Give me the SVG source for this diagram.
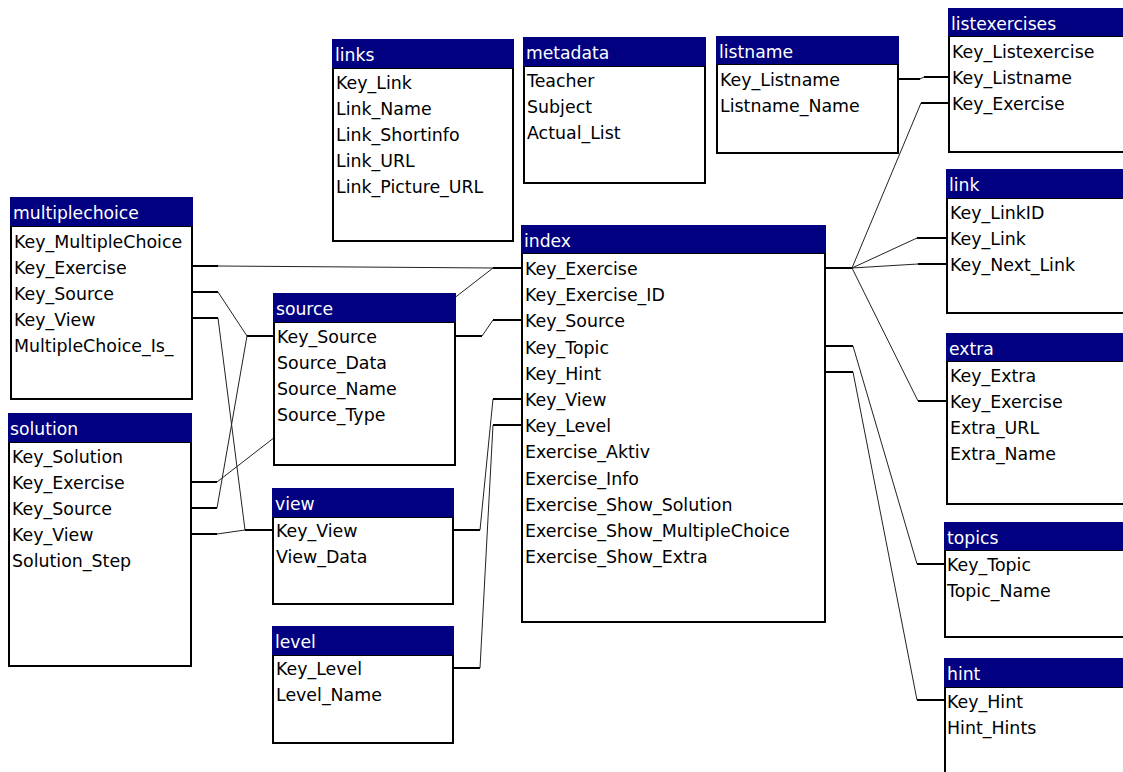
<svg xmlns="http://www.w3.org/2000/svg" width="1123" height="772" viewBox="0 0 1123 772">
  <style>
    .body { fill: #ffffff; stroke: #000000; stroke-width: 2; }
    .hdr { fill: #000080; }
    .ttl { font-family: "DejaVu Sans", Verdana, sans-serif; font-size: 17.2px; fill: #ffffff; }
    .fld { font-family: "DejaVu Sans", Verdana, sans-serif; font-size: 17.4px; fill: #000000; }
    .stub { fill: none; stroke: #000000; stroke-width: 2; }
    .diag { fill: none; stroke: #222222; stroke-width: 1; }
  </style>
  <rect width="1123" height="772" fill="#ffffff"/>

  <!-- relationship lines: thick stubs at the fields, thin joins between them -->
  <g id="connectors">
    <!-- multiplechoice.Key_Exercise -> index.Key_Exercise -->
    <path class="stub" d="M192,266 H218"/>
    <path class="diag" d="M218,266 L493,268"/>
    <path class="stub" d="M493,268 H522"/>
    <!-- multiplechoice.Key_Source -> source.Key_Source -->
    <path class="stub" d="M192,292 H218"/>
    <path class="diag" d="M218,292 L247,336"/>
    <path class="stub" d="M247,336 H274"/>
    <!-- multiplechoice.Key_View -> view.Key_View -->
    <path class="stub" d="M192,318 H218"/>
    <path class="diag" d="M218,318 L245,530"/>
    <path class="stub" d="M245,530 H273"/>
    <!-- solution.Key_Exercise -> index.Key_Exercise -->
    <path class="stub" d="M191,482 H217"/>
    <path class="diag" d="M217,482 L493,268"/>
    <!-- solution.Key_Source -> source.Key_Source -->
    <path class="stub" d="M191,508 H217"/>
    <path class="diag" d="M217,508 L247,336"/>
    <!-- solution.Key_View -> view.Key_View -->
    <path class="stub" d="M191,534 H217"/>
    <path class="diag" d="M217,534 L245,530"/>
    <!-- source.Key_Source -> index.Key_Source -->
    <path class="stub" d="M455,336 H482"/>
    <path class="diag" d="M482,336 L493,320"/>
    <path class="stub" d="M493,320 H522"/>
    <!-- view.Key_View -> index.Key_View -->
    <path class="stub" d="M453,530 H480"/>
    <path class="diag" d="M480,530 L493,399"/>
    <path class="stub" d="M493,399 H522"/>
    <!-- level.Key_Level -> index.Key_Level -->
    <path class="stub" d="M453,668 H480"/>
    <path class="diag" d="M480,668 L493,425"/>
    <path class="stub" d="M493,425 H522"/>
    <!-- index.Key_Exercise fan-out to the right -->
    <path class="stub" d="M825,268 H852"/>
    <path class="diag" d="M852,268 L921,103"/>
    <path class="stub" d="M921,103 H949"/>
    <path class="diag" d="M852,268 L917,238"/>
    <path class="stub" d="M917,238 H947"/>
    <path class="diag" d="M852,268 L918,264"/>
    <path class="stub" d="M918,264 H947"/>
    <path class="diag" d="M852,268 L918,401"/>
    <path class="stub" d="M918,401 H947"/>
    <!-- index.Key_Topic -> topics.Key_Topic -->
    <path class="stub" d="M825,346 H853"/>
    <path class="diag" d="M853,346 L917,564"/>
    <path class="stub" d="M917,564 H945"/>
    <!-- index.Key_Hint -> hint.Key_Hint -->
    <path class="stub" d="M825,372 H853"/>
    <path class="diag" d="M853,372 L917,700"/>
    <path class="stub" d="M917,700 H945"/>
    <!-- listname.Key_Listname -> listexercises.Key_Listname -->
    <path class="stub" d="M898,79 H920"/>
    <path class="diag" d="M920,79 L924,77"/>
    <path class="stub" d="M924,77 H949"/>
  </g>

  <g id="multiplechoice">
    <rect class="body" x="11" y="226" width="181" height="173"/>
    <rect class="hdr" x="10" y="197" width="183" height="29"/>
    <text class="ttl" x="13" y="218.5">multiplechoice</text>
    <text class="fld" x="14" y="248">Key_MultipleChoice</text>
    <text class="fld" x="14" y="274">Key_Exercise</text>
    <text class="fld" x="14" y="300">Key_Source</text>
    <text class="fld" x="14" y="326">Key_View</text>
    <text class="fld" x="14" y="352">MultipleChoice_Is_</text>
  </g>

  <g id="solution">
    <rect class="body" x="9" y="442" width="182" height="224"/>
    <rect class="hdr" x="8" y="413" width="184" height="29"/>
    <text class="ttl" x="10" y="434.5">solution</text>
    <text class="fld" x="12" y="463">Key_Solution</text>
    <text class="fld" x="12" y="489">Key_Exercise</text>
    <text class="fld" x="12" y="515">Key_Source</text>
    <text class="fld" x="12" y="541">Key_View</text>
    <text class="fld" x="12" y="567">Solution_Step</text>
  </g>

  <g id="source">
    <rect class="body" x="274" y="322" width="181" height="143"/>
    <rect class="hdr" x="273" y="293" width="183" height="29"/>
    <text class="ttl" x="276" y="314.5">source</text>
    <text class="fld" x="277" y="343">Key_Source</text>
    <text class="fld" x="277" y="369">Source_Data</text>
    <text class="fld" x="277" y="395">Source_Name</text>
    <text class="fld" x="277" y="421">Source_Type</text>
  </g>

  <g id="view">
    <rect class="body" x="273" y="517" width="180" height="87"/>
    <rect class="hdr" x="272" y="488" width="182" height="29"/>
    <text class="ttl" x="275" y="509.5">view</text>
    <text class="fld" x="276" y="537">Key_View</text>
    <text class="fld" x="276" y="563">View_Data</text>
  </g>

  <g id="level">
    <rect class="body" x="273" y="655" width="180" height="88"/>
    <rect class="hdr" x="272" y="626" width="182" height="29"/>
    <text class="ttl" x="275" y="647.5">level</text>
    <text class="fld" x="276" y="675">Key_Level</text>
    <text class="fld" x="276" y="701">Level_Name</text>
  </g>

  <g id="links">
    <rect class="body" x="333" y="68" width="180" height="173"/>
    <rect class="hdr" x="332" y="39" width="182" height="29"/>
    <text class="ttl" x="335" y="60.5">links</text>
    <text class="fld" x="336" y="89">Key_Link</text>
    <text class="fld" x="336" y="115">Link_Name</text>
    <text class="fld" x="336" y="141">Link_Shortinfo</text>
    <text class="fld" x="336" y="167">Link_URL</text>
    <text class="fld" x="336" y="193">Link_Picture_URL</text>
  </g>

  <g id="metadata">
    <rect class="body" x="524" y="66" width="181" height="117"/>
    <rect class="hdr" x="523" y="37" width="183" height="29"/>
    <text class="ttl" x="526" y="58.5">metadata</text>
    <text class="fld" x="527" y="87">Teacher</text>
    <text class="fld" x="527" y="113">Subject</text>
    <text class="fld" x="527" y="139">Actual_List</text>
  </g>

  <g id="listname">
    <rect class="body" x="717" y="64" width="181" height="89"/>
    <rect class="hdr" x="716" y="36" width="183" height="28"/>
    <text class="ttl" x="719" y="57.5">listname</text>
    <text class="fld" x="720" y="86">Key_Listname</text>
    <text class="fld" x="720" y="112">Listname_Name</text>
  </g>

  <g id="index">
    <rect class="body" x="522" y="253" width="303" height="369"/>
    <rect class="hdr" x="521" y="225" width="305" height="28"/>
    <text class="ttl" x="524" y="246.5">index</text>
    <text class="fld" x="525" y="275">Key_Exercise</text>
    <text class="fld" x="525" y="301.2">Key_Exercise_ID</text>
    <text class="fld" x="525" y="327.4">Key_Source</text>
    <text class="fld" x="525" y="353.6">Key_Topic</text>
    <text class="fld" x="525" y="379.8">Key_Hint</text>
    <text class="fld" x="525" y="406">Key_View</text>
    <text class="fld" x="525" y="432.2">Key_Level</text>
    <text class="fld" x="525" y="458.4">Exercise_Aktiv</text>
    <text class="fld" x="525" y="484.6">Exercise_Info</text>
    <text class="fld" x="525" y="510.8">Exercise_Show_Solution</text>
    <text class="fld" x="525" y="537">Exercise_Show_MultipleChoice</text>
    <text class="fld" x="525" y="563.2">Exercise_Show_Extra</text>
  </g>

  <g id="listexercises">
    <rect class="body" x="949" y="36" width="190" height="116"/>
    <rect class="hdr" x="948" y="8" width="192" height="28"/>
    <text class="ttl" x="951" y="29.5">listexercises</text>
    <text class="fld" x="952" y="58">Key_Listexercise</text>
    <text class="fld" x="952" y="84">Key_Listname</text>
    <text class="fld" x="952" y="110">Key_Exercise</text>
  </g>

  <g id="link">
    <rect class="body" x="947" y="198" width="192" height="115"/>
    <rect class="hdr" x="946" y="169" width="194" height="29"/>
    <text class="ttl" x="949" y="190.5">link</text>
    <text class="fld" x="950" y="219">Key_LinkID</text>
    <text class="fld" x="950" y="245">Key_Link</text>
    <text class="fld" x="950" y="271">Key_Next_Link</text>
  </g>

  <g id="extra">
    <rect class="body" x="947" y="361" width="192" height="143"/>
    <rect class="hdr" x="946" y="333" width="194" height="28"/>
    <text class="ttl" x="949" y="354.5">extra</text>
    <text class="fld" x="950" y="382">Key_Extra</text>
    <text class="fld" x="950" y="408">Key_Exercise</text>
    <text class="fld" x="950" y="434">Extra_URL</text>
    <text class="fld" x="950" y="460">Extra_Name</text>
  </g>

  <g id="topics">
    <rect class="body" x="945" y="550" width="194" height="87"/>
    <rect class="hdr" x="944" y="522" width="196" height="28"/>
    <text class="ttl" x="947" y="543.5">topics</text>
    <text class="fld" x="947" y="571">Key_Topic</text>
    <text class="fld" x="947" y="597">Topic_Name</text>
  </g>

  <g id="hint">
    <rect class="body" x="945" y="687" width="194" height="100"/>
    <rect class="hdr" x="944" y="658" width="196" height="29"/>
    <text class="ttl" x="947" y="679.5">hint</text>
    <text class="fld" x="947" y="708">Key_Hint</text>
    <text class="fld" x="947" y="734">Hint_Hints</text>
  </g>
</svg>
